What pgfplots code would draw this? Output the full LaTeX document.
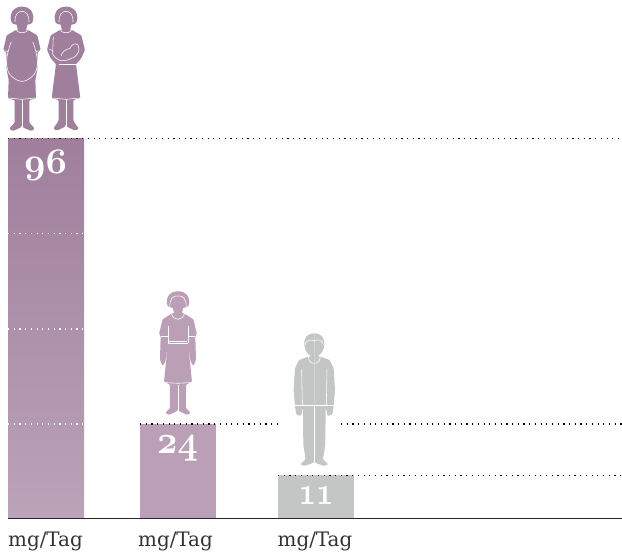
\documentclass[border=0pt]{standalone}
\usepackage{pgfplots}
\pgfplotsset{compat=1.18}
\usepackage{fontspec}
\setmainfont{DejaVu Serif}
\definecolor{mauveD}{HTML}{A07F9C}
\definecolor{mauveL}{HTML}{BBA3B8}
\definecolor{mauveM}{HTML}{BA9FB6}
\definecolor{greyB}{HTML}{C4C6C5}
\definecolor{txt}{HTML}{333333}
\newcommand\osn[1]{{\fontsize{24.88}{25}\usefont{OML}{cmm}{b}{it}#1}}
\tikzset{wl/.style={white,line width=0.55pt},dotk/.style={sharp plot,black,line width=1.2bp,dash pattern=on 1.2bp off 4.5bp},dotw/.style={sharp plot,white,line width=1.2bp,dash pattern=on 1.2bp off 4.5bp}}
\begin{document}
\begin{tikzpicture}
\useasboundingbox (0,0) rectangle (622bp,554bp);
\begin{axis}[
  at={(0,0)},anchor=south west,
  scale only axis,width=622bp,height=554bp,
  xmin=0,xmax=622,ymin=-8.84,ymax=131.06,
  hide axis,clip=false,
  ybar,bar width=76bp,bar shift=0pt,
]
\addplot[ybar,draw=none,top color=mauveD,bottom color=mauveL] coordinates {(46,96)};
\addplot[ybar,draw=none,fill=mauveM] coordinates {(178,24)};
\addplot[ybar,draw=none,fill=greyB] coordinates {(316,11)};
\addplot[sharp plot,black!85,line width=1pt] coordinates {(8,0) (622,0)};
\addplot[dotk] coordinates {(8,96) (622,96)};
\addplot[dotk] coordinates {(140,24) (280,24)};
\addplot[dotk] coordinates {(341,24) (622,24)};
\addplot[dotk] coordinates {(278,11) (622,11)};
\addplot[dotw] coordinates {(8,72) (84,72)};
\addplot[dotw] coordinates {(8,48) (84,48)};
\addplot[dotw] coordinates {(8,24) (84,24)};
\node[white,inner sep=0pt,xscale=1.5,yscale=1.45] at (axis cs:45.5,89.2) {\osn{96}};
\node[white,inner sep=0pt,xscale=1.43,yscale=1.6] at (axis cs:177.5,17.8) {\osn{24}};
\node[white,inner sep=0pt,xscale=1.22,yscale=1.6] at (axis cs:316,5.8) {\osn{11}};
\node[txt,inner sep=0pt,anchor=base] at (axis cs:45.5,-6.9) {\fontsize{20}{20}\selectfont mg/Tag};
\node[txt,inner sep=0pt,anchor=base] at (axis cs:175.5,-6.9) {\fontsize{20}{20}\selectfont mg/Tag};
\node[txt,inner sep=0pt,anchor=base] at (axis cs:315,-6.9) {\fontsize{20}{20}\selectfont mg/Tag};
\end{axis}
% --- pictograms (illustration), coordinates in 1/3 px from top-left
\begin{scope}[shift={(0bp,554bp)},x=0.33333bp,y=-0.33333bp]
 % pregnant woman
 \begin{scope}[shift={(66,0)}]
  \foreach \s in {1,-1}{
  \begin{scope}[xscale=\s]
   \fill[mauveD,rounded corners=1pt] (0,88)--(18,90)--(46,106)--(56,150)--(47,158)--(46,210)--(40,240)--(42,296)--(22,300)--(22,368)--(38,386)--(28,393)--(6,384)--(0,378)--cycle;
   \fill[mauveD] (0,20) .. controls (24,20) and (38,36) .. (33,62) .. controls (31,72) and (22,74) .. (16,74) -- (12,92) -- (0,92) --cycle;
   \draw[wl] (0,34) .. controls (12,34) and (22,44) .. (21,66);
   \draw[wl] (0,98) .. controls (10,98) and (16,94) .. (18,88);
   \draw[wl] (32,125) .. controls (50,170) and (52,210) .. (32,228) .. controls (20,240) and (8,244) .. (0,244);
   \draw[wl] (42,155) -- (52,152);
   \draw[wl] (0,300) -- (0,380);
   \draw[wl] (0,298) -- (42,294);
  \end{scope}}
 \end{scope}
 % woman with baby
 \begin{scope}[shift={(198,0)}]
  \foreach \s in {1,-1}{
  \begin{scope}[xscale=\s]
   \fill[mauveD,rounded corners=1pt] (0,88)--(18,90)--(46,106)--(57,150)--(45,176)--(30,192)--(43,295)--(22,300)--(22,362)--(38,386)--(28,392)--(6,382)--(0,376)--cycle;
   \fill[mauveD] (0,20) .. controls (24,20) and (38,36) .. (33,62) .. controls (31,72) and (22,74) .. (16,74) -- (12,92) -- (0,92) --cycle;
   \draw[wl] (0,34) .. controls (12,34) and (22,44) .. (21,66);
   \draw[wl] (0,98) .. controls (10,98) and (16,94) .. (18,88);
   \draw[wl] (0,300) -- (0,378);
   \draw[wl] (0,298) -- (42,294);
  \end{scope}}
  \draw[wl] (-38,110) -- (-40,162) .. controls (-30,182) and (-10,188) .. (14,176) .. controls (36,170) and (44,150) .. (36,135) .. controls (28,128) and (18,132) .. (12,145) .. controls (0,148) and (-14,156) .. (-14,168);
  \draw[wl] (-50,148)--(-40,152);
  \draw[wl] (-22,192)--(32,192);
 \end{scope}
 % schoolgirl
 \begin{scope}[shift={(534,840)}]
  \foreach \s in {1,-1}{
  \begin{scope}[xscale=\s]
   \fill[mauveM,rounded corners=1pt] (0,98)--(18,100)--(46,118)--(57,162)--(52,168)--(54,240)--(46,258)--(38,245)--(30,190)--(42,305)--(24,314)--(24,385)--(38,398)--(28,405)--(6,395)--(0,390)--cycle;
   \fill[mauveM] (0,34) .. controls (24,34) and (36,48) .. (33,72) .. controls (32,82) and (20,84) .. (15,84) -- (12,102) -- (0,102) --cycle;
   \draw[wl] (0,48) .. controls (14,46) and (27,56) .. (24,84);
   \draw[wl] (0,118) .. controls (10,118) and (16,112) .. (20,100);
   \draw[wl] (30,138) -- (30,190);
   \draw[wl] (30,168) -- (50,168);
   \draw[wl] (0,183) -- (28,183);
   \draw[wl] (0,190) -- (30,190);
   \draw[wl] (0,314) -- (0,392);
   \draw[wl] (0,310) -- (38,308);
  \end{scope}}
 \end{scope}
 % boy
 \begin{scope}[shift={(943,840)}]
  \foreach \s in {1,-1}{
  \begin{scope}[xscale=\s]
   \fill[greyB,rounded corners=1pt] (0,228)--(18,230)--(46,240)--(58,265)--(62,330)--(58,378)--(54,404)--(40,408)--(34,382)--(33,495)--(26,538)--(42,553)--(30,558)--(6,550)--(0,546)--cycle;
   \fill[greyB] (0,160) .. controls (20,160) and (32,172) .. (30,196) .. controls (28,212) and (20,224) .. (12,226) -- (12,234) -- (0,234) --cycle;
   \draw[wl] (-2,184) .. controls (10,176) and (24,180) .. (28,194);
   \draw[wl] (0,250) .. controls (10,250) and (16,246) .. (18,230);
   \draw[wl] (38,268) -- (36,376);
   \draw[wl] (0,376) -- (60,376);
   \draw[wl] (0,376) -- (0,550);
  \end{scope}}
 \end{scope}
\end{scope}
\end{tikzpicture}
\end{document}
